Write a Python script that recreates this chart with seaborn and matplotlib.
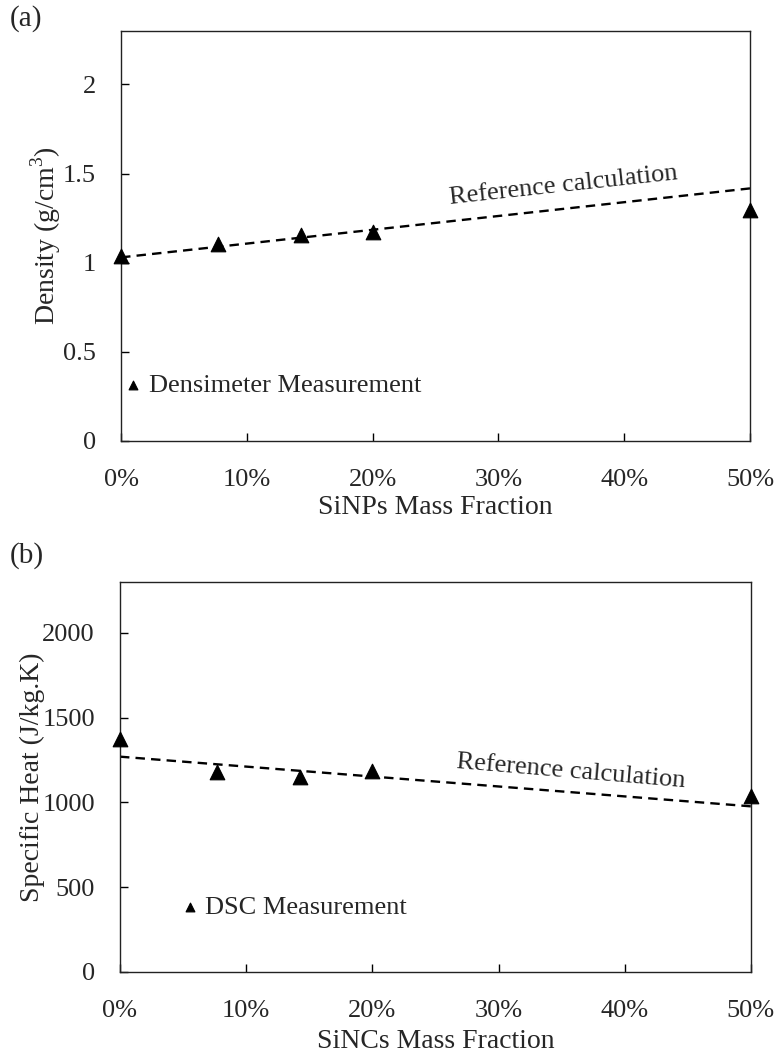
import numpy as np
import pandas as pd
import seaborn as sns
import matplotlib.pyplot as plt
from matplotlib.ticker import PercentFormatter, FormatStrFormatter

# 측정 데이터 (질량 분율)
mass_fraction = [0.0, 0.077, 0.143, 0.2, 0.5]
density_meas = [1.04, 1.107, 1.157, 1.17, 1.295]
cp_meas = [1376, 1182, 1153, 1188, 1040]

# 기준 계산 (양 끝점)
ref_x = [0.0, 0.5]
density_ref = [1.03, 1.417]
cp_ref = [1270, 977]

sns.set_style("ticks")
plt.rcParams['font.family'] = ['Liberation Serif', 'DejaVu Serif']
plt.rcParams['mathtext.fontset'] = 'custom'
plt.rcParams['mathtext.rm'] = 'Liberation Serif'

fig = plt.figure(figsize=(7.76, 10.54), dpi=100)
ax1 = fig.add_axes([0.156, 0.5816, 0.8105, 0.389])
ax2 = fig.add_axes([0.1546, 0.0778, 0.813, 0.370])

FS = 19

panels = [
    (ax1, density_meas, density_ref, "Densimeter Measurement", "Density (g/cm$^3$)",
     "SiNPs Mass Fraction", (0, 2.3), [0, 0.5, 1, 1.5, 2], "(a)", (0.703, 0.624), 6.2, (0.008, 0.135), 3, 0),
    (ax2, cp_meas, cp_ref, "DSC Measurement", "Specific Heat (J/kg.K)",
     "SiNCs Mass Fraction", (0, 2300), [0, 500, 1000, 1500, 2000], "(b)", (0.714, 0.513), -4.8, (0.1, 0.165), 5, -2),
]

for ax, meas, ref, leg_label, ylab, xlab, ylim, yticks, tag, txt_pos, rot, leg_pos, xlpad, ylpad in panels:
    df = pd.DataFrame({"x": mass_fraction, "y": meas})
    ref_df = pd.DataFrame({"x": ref_x, "y": ref})
    sns.lineplot(data=ref_df, x="x", y="y", ax=ax, color="black", lw=1.7,
                 linestyle=(0, (4, 2.6)), legend=False)
    ax.lines[-1].set_label("_nolegend_")
    sns.scatterplot(data=df, x="x", y="y", ax=ax, marker="^", s=110, color="black",
                    edgecolor="black", label=leg_label, clip_on=False, zorder=5)

    ax.set_xlim(0, 0.5)
    ax.set_ylim(*ylim)
    ax.set_yticks(yticks)
    ax.yaxis.set_major_formatter(FormatStrFormatter("%g"))
    ax.set_xticks([0, 0.1, 0.2, 0.3, 0.4, 0.5])
    ax.xaxis.set_major_formatter(PercentFormatter(1.0, decimals=0))
    ax.tick_params(direction="in", length=6, width=1, labelsize=FS, color="black")
    ax.tick_params(axis="x", pad=20)
    ax.tick_params(axis="y", pad=18)
    for s in ax.spines.values():
        s.set_linewidth(1.0)
        s.set_color("#222222")

    ax.set_ylabel(ylab, fontsize=FS + 1, labelpad=ylpad)
    ax.set_xlabel(xlab, fontsize=FS + 1, labelpad=xlpad)

    ax.text(txt_pos[0], txt_pos[1], "Reference calculation", transform=ax.transAxes,
            fontsize=FS, rotation=rot, ha="center", va="center", rotation_mode="anchor")

    ax.legend(loc="center left", bbox_to_anchor=leg_pos, frameon=False, fontsize=FS,
              handlelength=0.55, handletextpad=0.3, markerscale=0.6, borderpad=0, borderaxespad=0)

    fig.text(0.012, 0.982 if tag == "(a)" else 0.473, tag, fontsize=21, ha="left", va="center")

plt.savefig("out.png", dpi=100)
